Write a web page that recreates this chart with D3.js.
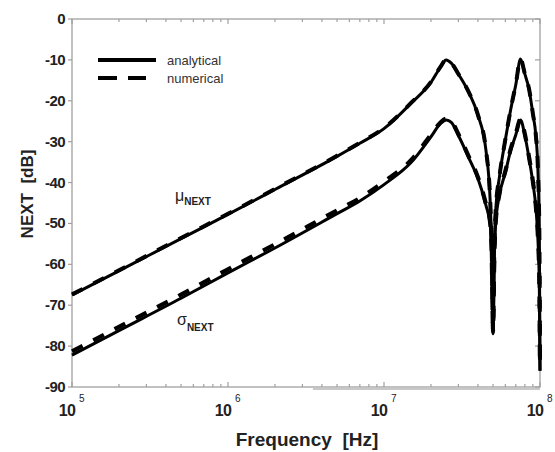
<!DOCTYPE html>
<html>
<head>
<meta charset="utf-8">
<script src="https://cdn.jsdelivr.net/npm/d3@7"></script>
<style>
  body { margin: 0; background: #fff; }
  svg { display: block; font-family: "Liberation Sans", Arial, sans-serif; }
</style>
</head>
<body>
<div id="chart"></div>
<script>
// Frequency grid [Hz] shared by all curves
const freq = [1e5, 2e5, 5e5, 1e6, 2e6, 5e6, 7e6, 1e7, 1.5e7, 2e7, 2.3e7, 2.5e7, 2.7e7, 3e7, 3.5e7, 4e7,
    4.5e7, 4.8e7, 4.9e7, 5e7, 5.1e7, 5.2e7, 5.5e7, 6e7, 6.5e7, 7e7, 7.5e7, 8e7, 8.5e7, 9e7,
    9.4e7, 9.7e7, 9.9e7, 1e8];

// NEXT values [dB]
const muAnalytical = [-67.5, -61.6, -53.7, -47.8, -41.7, -33.6, -30.4, -26.8, -20.5, -15.5, -11.8, -10.0, -10.8, -13.5, -18.0, -23.5,
    -32.0, -45.0, -56.0, -77.0, -56.0, -47.0, -38.5, -29.5, -22.0, -16.0, -9.8, -13.5, -17.1, -23.2,
    -28.4, -37.0, -52.0, -86.0];
const muNumerical = [-67.35, -61.45, -53.55, -47.65, -41.55, -33.45, -30.25, -26.65, -20.4, -15.4, -11.7, -9.95, -10.75, -13.45, -17.95, -23.45,
    -31.9, -44.8, -55.5, -76.5, -55.5, -46.8, -38.4, -29.4, -21.9, -15.9, -9.75, -13.45, -17.05, -23.1,
    -28.3, -36.8, -51.5, -85.5];
const sigmaAnalytical = [-82.2, -76.2, -68.3, -62.1, -56.0, -47.6, -44.5, -40.5, -35.0, -28.8, -25.6, -24.7, -25.3, -28.5, -34.0, -39.0,
    -45.5, -50.5, -58.0, -76.0, -58.0, -50.0, -43.0, -37.5, -32.0, -28.3, -24.7, -28.5, -34.0, -40.0,
    -46.0, -54.0, -65.0, -86.0];
const sigmaNumerical = [-81.3, -75.3, -67.4, -61.2, -55.1, -46.8, -43.8, -39.8, -34.4, -28.3, -25.3, -24.4, -25.0, -28.2, -33.7, -38.7,
    -45.2, -50.0, -57.5, -75.5, -57.5, -49.7, -42.7, -37.2, -31.7, -28.0, -24.5, -28.2, -33.7, -39.7,
    -45.7, -53.5, -64.0, -85.5];

const yTicks = [0, -10, -20, -30, -40, -50, -60, -70, -80, -90];
const xMajor = [1e5, 1e6, 1e7, 1e8];
const xExponents = ["5", "6", "7", "8"];
const legendLabels = ["analytical", "numerical"];

const W = 555, H = 452;
const margin = {top: 19, right: 15, bottom: 65, left: 72};
const width = W - margin.left - margin.right;
const height = H - margin.top - margin.bottom;

const svg = d3.select("#chart").append("svg")
    .attr("width", W)
    .attr("height", H);

const g = svg.append("g")
    .attr("transform", `translate(${margin.left},${margin.top})`);

const x = d3.scaleLog().domain([1e5, 1e8]).range([0, width]);
const y = d3.scaleLinear().domain([-90, 0]).range([height, 0]);

const axisColor = "#a0a0a0";
const textColor = "#222";

// minor ticks (2..9 per decade)
const minor = [];
[1e5, 1e6, 1e7].forEach(d => { for (let k = 2; k <= 9; k++) minor.push(d * k); });

// frame
g.append("rect")
    .attr("width", width)
    .attr("height", height)
    .attr("fill", "none")
    .attr("stroke", axisColor)
    .attr("stroke-width", 1.3);

// scan artifact under the bottom axis
g.append("line")
    .attr("x1", x(3.5e6)).attr("x2", width)
    .attr("y1", height + 2).attr("y2", height + 2)
    .attr("stroke", "#c8c8c8")
    .attr("stroke-width", 2);

// x ticks: bottom (inward) and top (inward)
const xt = g.append("g").attr("stroke", axisColor).attr("stroke-width", 1.2);
xt.selectAll(".minb").data(minor).join("line")
    .attr("x1", d => x(d)).attr("x2", d => x(d))
    .attr("y1", height).attr("y2", height - 3);
xt.selectAll(".mint").data(minor).join("line")
    .attr("x1", d => x(d)).attr("x2", d => x(d))
    .attr("y1", 0).attr("y2", 3);
xt.selectAll(".majb").data(xMajor).join("line")
    .attr("x1", d => x(d)).attr("x2", d => x(d))
    .attr("y1", height).attr("y2", height - 5);
xt.selectAll(".majt").data(xMajor).join("line")
    .attr("x1", d => x(d)).attr("x2", d => x(d))
    .attr("y1", 0).attr("y2", 5);

// y ticks: left (outward), right (inward)
const yt = g.append("g").attr("stroke", axisColor).attr("stroke-width", 1.2);
yt.selectAll(".l").data(yTicks).join("line")
    .attr("x1", -4).attr("x2", 0)
    .attr("y1", d => y(d)).attr("y2", d => y(d));
yt.selectAll(".r").data(yTicks).join("line")
    .attr("x1", width - 5).attr("x2", width)
    .attr("y1", d => y(d)).attr("y2", d => y(d));

// y tick labels
g.selectAll(".ylab").data(yTicks).join("text")
    .attr("x", -7)
    .attr("y", d => y(d) + 5)
    .attr("text-anchor", "end")
    .attr("fill", textColor)
    .style("font-size", "15px")
    .style("font-weight", "bold")
    .style("letter-spacing", "-0.6px")
    .text(d => d);

// x tick labels: 10 with superscript exponent
g.selectAll(".xlab").data(xMajor).join("text")
    .attr("x", d => x(d) - 5)
    .attr("y", height + 29)
    .attr("text-anchor", "middle")
    .attr("fill", textColor)
    .style("font-size", "16px")
    .style("font-weight", "bold")
    .style("letter-spacing", "-0.6px")
    .text("10");
g.selectAll(".xexp").data(xMajor).join("text")
    .attr("x", d => x(d) + 7)
    .attr("y", height + 15)
    .attr("fill", textColor)
    .style("font-size", "10px")
    .text((d, i) => xExponents[i]);

// axis titles
g.append("text")
    .attr("x", width / 2 + 1)
    .attr("y", height + 59)
    .attr("text-anchor", "middle")
    .attr("fill", textColor)
    .style("font-size", "19px")
    .style("font-weight", "bold")
    .style("white-space", "pre")
    .attr("xml:space", "preserve")
    .text("Frequency  [Hz]");

g.append("text")
    .attr("transform", `translate(${33 - margin.left},${194 - margin.top}) rotate(-90)`)
    .attr("text-anchor", "middle")
    .attr("fill", textColor)
    .style("font-size", "17px")
    .style("font-weight", "bold")
    .style("white-space", "pre")
    .attr("xml:space", "preserve")
    .text("NEXT  [dB]");

// curves
const line = d3.line()
    .x(d => x(d[0]))
    .y(d => y(d[1]))
    .curve(d3.curveMonotoneX);

const series = [
    {values: muNumerical, dash: "12,12", w: 4},
    {values: sigmaNumerical, dash: "12,12", w: 4.2},
    {values: muAnalytical, dash: null, w: 3},
    {values: sigmaAnalytical, dash: null, w: 3}
];

g.selectAll(".curve").data(series).join("path")
    .attr("class", "curve")
    .attr("fill", "none")
    .attr("stroke", "#000")
    .attr("stroke-width", d => d.w)
    .attr("stroke-linejoin", "round")
    .attr("stroke-dasharray", d => d.dash)
    .attr("d", d => line(freq.map((f, i) => [f, d.values[i]])));

// curve annotations
const ann = [
    {sym: "\u03bc", x: 175, y: 201, sub: 205},
    {sym: "\u03c3", x: 177, y: 325, sub: 331}
];
ann.forEach(a => {
    const t = svg.append("text")
        .attr("x", a.x)
        .attr("y", a.y)
        .attr("fill", textColor);
    t.append("tspan")
        .style("font-size", "16px")
        .text(a.sym);
    t.append("tspan")
        .attr("y", a.sub)
        .style("font-size", "10px")
        .style("font-weight", "bold")
        .text("NEXT");
});

// legend
const legend = svg.append("g").attr("transform", "translate(98,60)");
legend.append("line")
    .attr("x1", 0).attr("x2", 58).attr("y1", 0).attr("y2", 0)
    .attr("stroke", "#000").attr("stroke-width", 4);
legend.append("line")
    .attr("x1", 0).attr("x2", 48).attr("y1", 18).attr("y2", 18)
    .attr("stroke", "#000").attr("stroke-width", 4)
    .attr("stroke-dasharray", "19,11");
legend.selectAll(".lt").data(legendLabels).join("text")
    .attr("x", 69)
    .attr("y", (d, i) => 5 + i * 18)
    .attr("fill", "#333")
    .style("font-size", "13px")
    .text(d => d);
</script>
</body>
</html>
